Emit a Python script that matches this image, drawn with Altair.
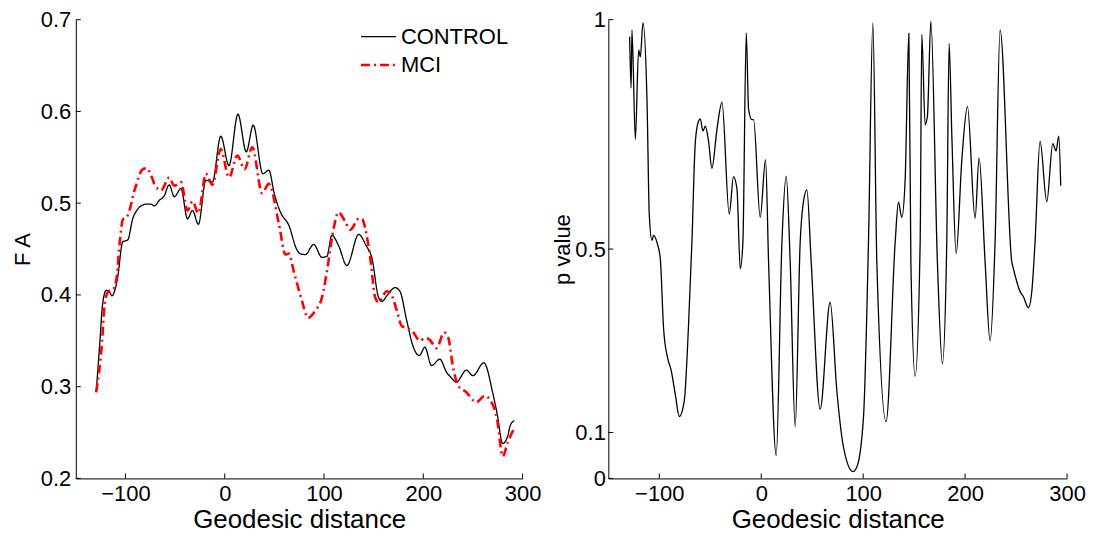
import altair as alt
import pandas as pd

# ---------------- data ----------------
dist_control = [-129.5, -126, -123, -119.4, -116.5, -113.6, -111, -108, -102.7, -97.7, -92.7, -88, -84.3,
                -78.6, -74.5, -70.9, -66, -61, -55.9, -50.8, -44.1, -37.5, -32.5, -26.5, -19, -12.4, -4,
                4.3, 13.3, 21.7, 28.7, 38.4, 44.4, 50, 56.2, 64.5, 72.8, 76, 81.2, 89.6, 97.9, 102.9,
                107.9, 114.6, 123, 135, 142.3, 148.3, 155, 158.3, 164, 171.5, 176.5, 183.3, 190, 196,
                201.6, 208.3, 216.7, 223.3, 228, 233.3, 243.4, 250, 261, 270, 274.3, 280, 285, 287.7, 291.7]
fa_control = [0.294, 0.345, 0.39, 0.405, 0.404, 0.399, 0.404, 0.418, 0.458, 0.460, 0.483, 0.493, 0.497,
              0.499, 0.499, 0.497, 0.503, 0.508, 0.520, 0.507, 0.516, 0.483, 0.492, 0.477, 0.525, 0.523, 0.573,
              0.541, 0.597, 0.556, 0.585, 0.532, 0.536, 0.510, 0.490, 0.476, 0.449, 0.445, 0.444, 0.455, 0.441, 0.442,
              0.465, 0.454, 0.432, 0.466, 0.454, 0.440, 0.397, 0.393, 0.400, 0.408, 0.404, 0.372, 0.343, 0.334,
              0.343, 0.323, 0.330, 0.316, 0.310, 0.305, 0.318, 0.312, 0.326, 0.293, 0.271, 0.238, 0.246, 0.258, 0.263]

dist_mci = [-129.5, -124, -120.6, -117, -112.4, -109, -105.7, -102.6, -97.6, -90.9, -82.6, -78.6, -74,
            -70.9, -64.2, -55.9, -50.9, -44.1, -37.5, -32.5, -26.5, -19, -12.4, -4, 4.3, 12.7, 20, 27.7,
            37.7, 44.4, 54.5, 61.2, 64.5, 69.5, 77.9, 83.9, 91.3, 97.9, 103, 108, 114.6, 121.3, 126.3,
            135, 138.3, 141.6, 146.6, 151.6, 155, 163.3, 168.4, 173.3, 178.4, 183.3, 190, 196.6, 201.6,
            206.6, 213.3, 221, 225, 230, 235.1, 243.4, 253.4, 261.8, 270.1, 274.4, 280, 285, 291.7]
fa_mci = [0.294, 0.343, 0.393, 0.404, 0.406, 0.418, 0.458, 0.482, 0.487, 0.514, 0.537, 0.538, 0.530,
          0.521, 0.514, 0.528, 0.519, 0.523, 0.492, 0.502, 0.489, 0.532, 0.520, 0.559, 0.528, 0.552, 0.537, 0.561,
          0.511, 0.521, 0.478, 0.444, 0.445, 0.426, 0.393, 0.375, 0.383, 0.397, 0.426, 0.462, 0.490, 0.480, 0.471,
          0.483, 0.483, 0.472, 0.440, 0.397, 0.392, 0.404, 0.399, 0.383, 0.366, 0.364, 0.359, 0.350, 0.353,
          0.351, 0.342, 0.359, 0.354, 0.321, 0.301, 0.294, 0.283, 0.290, 0.280, 0.264, 0.224, 0.239, 0.255]

dist_p = [-129.1, -127.7, -126.8, -123.5, -120.3, -118.6, -116, -112, -109.8, -107.2, -105.6, -101.7, -99,
          -95.8, -91.9, -88.5, -84.3, -80.4, -75.5, -71.3, -68, -64.7, -61.5, -59.8, -57.2, -54.9, -51.7,
          -48.4, -43.5, -38.5, -31.4, -27.2, -23.8, -20.6, -18, -14.7, -12.4, -9.1, -7.5, -1, 4.2, 7.2,
          14.7, 20.3, 24.5, 28.4, 33.3, 38.2, 40.9, 44.8, 49, 57.8, 67.6, 74.2, 80.7, 89.9, 93.8, 100.3,
          105.2, 109.5, 113.4, 122.5, 131.4, 134.6, 137.9, 141.2, 144.8, 146.8, 151, 155.9, 157.5, 160.8,
          163, 166.4, 172.8, 177.7, 182, 184.3, 187, 191.2, 196.8, 202.3, 209.8, 213.7, 219.6, 224.5,
          229.4, 234.3, 245.8, 247.4, 254, 257.2, 262.1, 265.4, 268.6, 273.5, 280.1, 286, 289.2, 291.9, 293.8]
p_values = [0.963, 0.851, 0.978, 0.739, 0.934, 0.919, 0.993, 0.818, 0.573, 0.519, 0.530, 0.510, 0.479,
            0.327, 0.263, 0.237, 0.183, 0.135, 0.169, 0.335, 0.515, 0.732, 0.779, 0.784, 0.757, 0.768, 0.735,
            0.676, 0.760, 0.820, 0.576, 0.658, 0.631, 0.457, 0.515, 0.971, 0.804, 0.782, 0.782, 0.569, 0.695, 0.472,
            0.050, 0.515, 0.659, 0.472, 0.113, 0.515, 0.595, 0.629, 0.472, 0.151, 0.384, 0.190, 0.068, 0.015, 0.025, 0.133,
            0.515, 0.993, 0.472, 0.124, 0.515, 0.602, 0.569, 0.652, 0.970, 0.472, 0.223, 0.515, 0.968, 0.771,
            0.789, 0.997, 0.472, 0.250, 0.515, 0.948, 0.746, 0.490, 0.695, 0.811, 0.567, 0.699, 0.472, 0.300,
            0.515, 0.978, 0.472, 0.457, 0.407, 0.396, 0.372, 0.407, 0.515, 0.735, 0.603, 0.730, 0.714, 0.746, 0.638]

groups = ["CONTROL", "MCI"]
x_ticks = [-100, 0, 100, 200, 300]
fa_ticks = [0.2, 0.3, 0.4, 0.5, 0.6, 0.7]
p_ticks = [0, 0.1, 0.5, 1]

# ---------------- tables ----------------
fa_df = pd.concat([
    pd.DataFrame({"dist": dist_control, "fa": fa_control, "group": groups[0], "order": range(len(dist_control))}),
    pd.DataFrame({"dist": dist_mci, "fa": fa_mci, "group": groups[1], "order": range(len(dist_mci))}),
])
p_df = pd.DataFrame({"dist": dist_p, "p": p_values})
xt_df = pd.DataFrame({"dist": x_ticks})
fat_df = pd.DataFrame({"fa": fa_ticks})
pt_df = pd.DataFrame({"p": p_ticks})

FONT = "Liberation Sans"
W1, H1 = 448, 460
W2, H2 = 460, 460
TICK = 5

xscale = alt.Scale(domain=[-150, 300], nice=False, zero=False)
fa_scale = alt.Scale(domain=[0.2, 0.7], nice=False, zero=False)
p_scale = alt.Scale(domain=[0, 1], nice=False)

common = dict(ticks=False, grid=False, labelFont=FONT, titleFont=FONT, labelColor="black",
              titleColor="black", titleFontWeight="normal", domainColor="black", domainWidth=1,
              labelFlush=False)
x_axis = alt.Axis(title="Geodesic distance", values=x_ticks, labelFontSize=22, titleFontSize=26,
                  labelPadding=5, titlePadding=2, **common)
fa_axis = alt.Axis(title="F A", values=fa_ticks, format=".1f", labelFontSize=22, titleFontSize=22,
                   labelPadding=5, titlePadding=6, **common)
p_axis = alt.Axis(title="p value", values=p_ticks, format="~g", labelFontSize=22, titleFontSize=22,
                  labelPadding=3, titlePadding=0, **common)

legend = alt.Legend(title=None, orient="none", legendX=292, legendY=6,
                    symbolType="M-1.75,0L1.75,0", symbolSize=400,
                    labelFontSize=22, labelFont=FONT, labelOffset=11, rowPadding=6,
                    labelColor="black")

lines = alt.Chart(fa_df).mark_line(interpolate="monotone").encode(
    x=alt.X("dist:Q", scale=xscale, axis=x_axis),
    y=alt.Y("fa:Q", scale=fa_scale, axis=fa_axis),
    color=alt.Color("group:N", scale=alt.Scale(domain=groups, range=["black", "red"]), legend=legend),
    strokeDash=alt.StrokeDash("group:N", scale=alt.Scale(domain=groups, range=[[1, 0], [9, 4, 2, 4]]), legend=legend),
    strokeWidth=alt.StrokeWidth("group:N", scale=alt.Scale(domain=groups, range=[1.3, 2.6]), legend=legend),
    order="order:Q",
)

xt_left = alt.Chart(xt_df).mark_rule(color="black", strokeWidth=1).encode(
    x=alt.X("dist:Q", scale=xscale, axis=x_axis), y=alt.value(H1), y2=alt.value(H1 - TICK))
yt_left = alt.Chart(fat_df).mark_rule(color="black", strokeWidth=1).encode(
    y=alt.Y("fa:Q", scale=fa_scale, axis=fa_axis), x=alt.value(0), x2=alt.value(TICK))

left = alt.layer(lines, xt_left, yt_left).properties(width=W1, height=H1)

pline = alt.Chart(p_df).mark_line(interpolate="monotone", color="black", strokeWidth=1.3).encode(
    x=alt.X("dist:Q", scale=xscale, axis=x_axis),
    y=alt.Y("p:Q", scale=p_scale, axis=p_axis),
)
xt_right = alt.Chart(xt_df).mark_rule(color="black", strokeWidth=1).encode(
    x=alt.X("dist:Q", scale=xscale, axis=x_axis), y=alt.value(H2), y2=alt.value(H2 - TICK))
yt_right = alt.Chart(pt_df).mark_rule(color="black", strokeWidth=1).encode(
    y=alt.Y("p:Q", scale=p_scale, axis=p_axis), x=alt.value(0), x2=alt.value(TICK))

right = alt.layer(pline, xt_right, yt_right).properties(width=W2, height=H2)

chart = alt.hconcat(left, right, spacing=10).properties(
    padding={"left": 3, "top": 0, "right": 0, "bottom": 0}, background="white"
).configure_view(strokeWidth=0, stroke="transparent")

chart.save("out.html", embed_options={"renderer": "svg", "actions": False})
